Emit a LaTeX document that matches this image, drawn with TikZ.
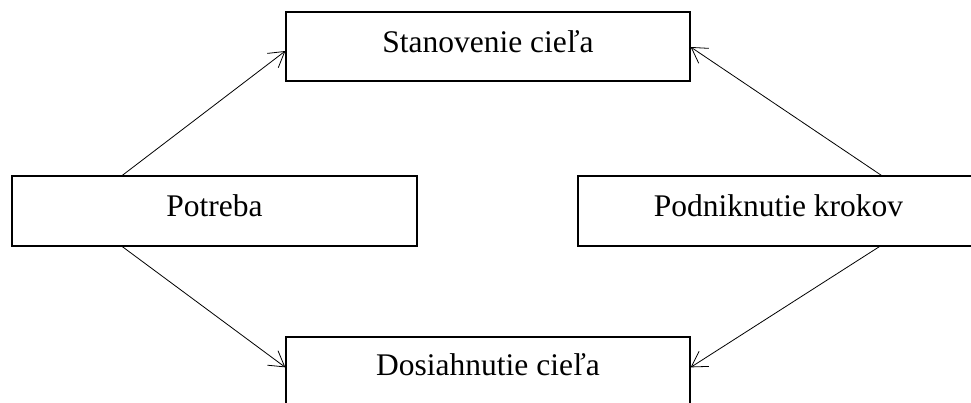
\documentclass[tikz,border=0pt]{standalone}
\usepackage{fontspec}
\setmainfont{Liberation Serif}
\usetikzlibrary{arrows.meta,calc}
\begin{document}
\begin{tikzpicture}[x=1pt,y=-1pt,
  box/.style={draw, line width=1.3pt, inner sep=0pt, font=\fontsize{31.5}{36}\selectfont, text height=24pt},
  arr/.style={line width=0.8pt, -{Straight Barb[length=15pt,width=18pt,line width=0.8pt]}}]
\useasboundingbox (0,0) rectangle (971,403);
\clip (0,0) rectangle (971,403);
\node[box, minimum width=404pt, minimum height=69pt, text depth=11pt] (s) at (488,46.5) {Stanovenie cieľa};
\node[box, minimum width=405pt, minimum height=70pt, text depth=12pt] (p) at (214.5,211) {Potreba};
\node[box, minimum width=401pt, minimum height=70pt, text depth=12pt] (k) at (778.5,211) {Podniknutie krokov};
\node[box, minimum width=404pt, minimum height=80pt, text depth=28pt] (d) at (488,377) {Dosiahnutie cieľa};
\draw[arr] ($(p.north west)+(111,0)$) -- ($(s.west)+(0,4.5)$);
\draw[arr] ($(p.south west)+(111,0)$) -- ($(d.north west)+(0,31)$);
\draw[arr] ($(k.north west)+(304,0)$) -- ($(s.east)+(0,0.5)$);
\draw[arr] ($(k.south west)+(302,0)$) -- ($(d.north east)+(0,31)$);
\end{tikzpicture}
\end{document}
